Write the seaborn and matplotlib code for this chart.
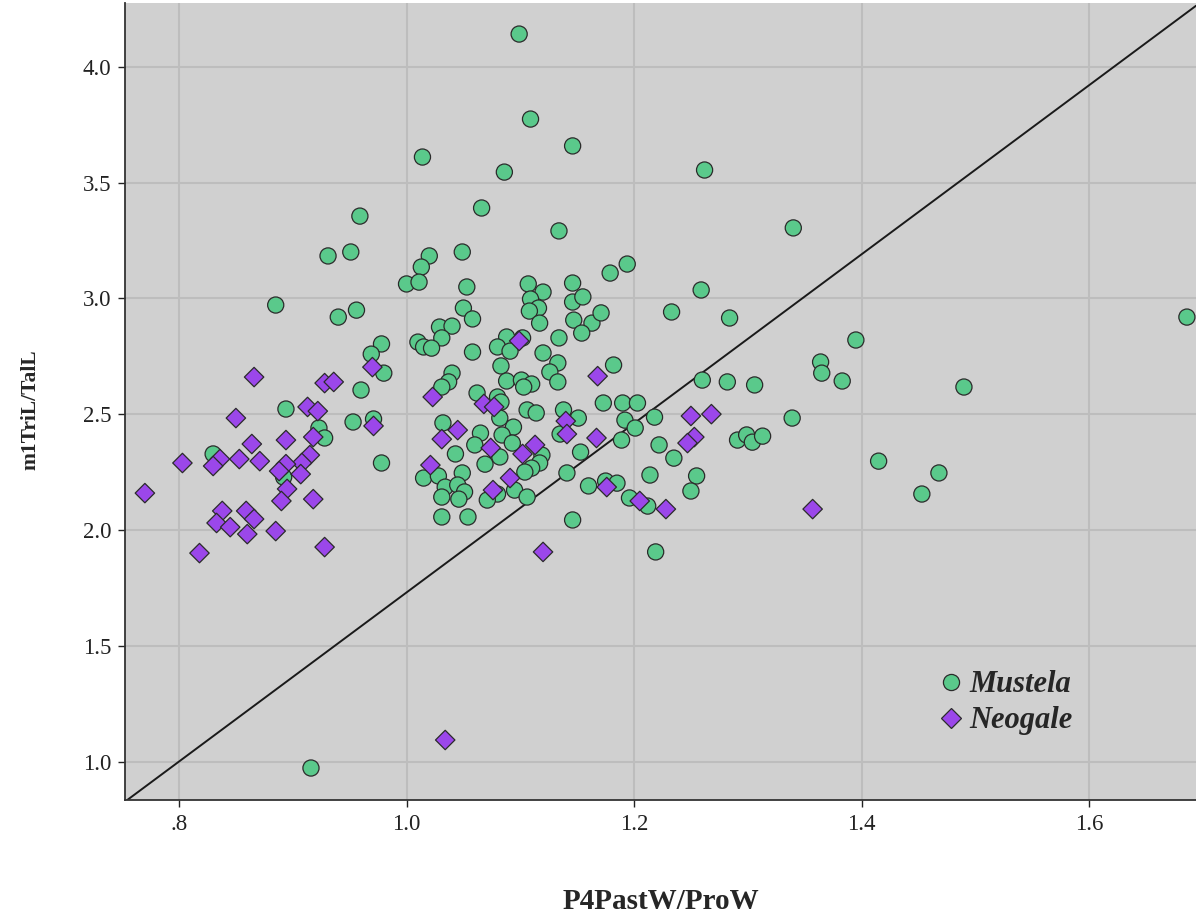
import matplotlib
matplotlib.use("Agg")
import matplotlib.pyplot as plt
from matplotlib.font_manager import FontProperties
import seaborn as sns
import pandas as pd

# P4 posterior/anterior width ratio vs m1 trigonid/talonid length ratio
mustela_x = [
    0.959, 0.951, 0.931, 0.885, 0.956, 0.940, 0.978, 0.969, 0.980, 0.960,
    0.894, 0.953, 0.971, 0.923, 0.928, 0.830, 0.978, 0.892, 0.916,
    1.099, 1.109, 1.146, 1.014, 1.086, 1.066, 1.134, 1.020, 1.049, 1.013,
    1.194, 1.179, 1.000, 1.011, 1.053, 1.107, 1.120, 1.146, 1.109, 1.116,
    1.108, 1.117, 1.050, 1.058, 1.029, 1.040, 1.031, 1.010, 1.015, 1.022,
    1.058, 1.088, 1.080, 1.091, 1.102, 1.134, 1.120, 1.133, 1.126, 1.133,
    1.083, 1.088, 1.101, 1.110, 1.103, 1.040, 1.037, 1.031, 1.062, 1.080,
    1.106, 1.114, 1.138, 1.146, 1.155, 1.147, 1.163, 1.171, 1.154, 1.182,
    1.173, 1.190, 1.203, 1.151, 1.192, 1.201, 1.189, 1.135, 1.153, 1.141,
    1.160, 1.175, 1.185, 1.196, 1.146, 1.032, 1.065, 1.083, 1.082, 1.094,
    1.084, 1.093, 1.060, 1.043, 1.119, 1.117, 1.110, 1.104, 1.069, 1.082,
    1.015, 1.028, 1.049, 1.034, 1.045, 1.051, 1.031, 1.046, 1.095, 1.106,
    1.080, 1.071, 1.031, 1.054, 1.219,
    1.262, 1.340, 1.259, 1.233, 1.284, 1.395, 1.364, 1.365, 1.383, 1.260,
    1.282, 1.306, 1.218, 1.339, 1.291, 1.299, 1.304, 1.313, 1.222, 1.235,
    1.415, 1.214, 1.255, 1.250, 1.212, 1.468, 1.453, 1.490, 1.686,
]
mustela_y = [
    3.355, 3.200, 3.183, 2.971, 2.949, 2.919, 2.803, 2.759, 2.677, 2.604,
    2.522, 2.466, 2.479, 2.440, 2.397, 2.328, 2.289, 2.228, 0.972,
    4.141, 3.774, 3.658, 3.610, 3.545, 3.390, 3.291, 3.183, 3.200, 3.135,
    3.148, 3.109, 3.062, 3.070, 3.049, 3.062, 3.027, 3.066, 2.997, 2.958,
    2.945, 2.893, 2.958, 2.911, 2.876, 2.880, 2.829, 2.811, 2.790, 2.785,
    2.768, 2.833, 2.790, 2.772, 2.829, 2.829, 2.764, 2.721, 2.682, 2.639,
    2.708, 2.643, 2.647, 2.630, 2.617, 2.677, 2.639, 2.617, 2.591, 2.574,
    2.518, 2.505, 2.518, 2.984, 3.006, 2.906, 2.893, 2.937, 2.850, 2.712,
    2.548, 2.548, 2.548, 2.483, 2.474, 2.440, 2.388, 2.414, 2.336, 2.246,
    2.190, 2.211, 2.202, 2.138, 2.043, 2.462, 2.418, 2.552, 2.483, 2.444,
    2.410, 2.375, 2.367, 2.328, 2.323, 2.289, 2.267, 2.250, 2.284, 2.315,
    2.224, 2.233, 2.246, 2.185, 2.194, 2.164, 2.142, 2.133, 2.172, 2.142,
    2.155, 2.129, 2.056, 2.056, 1.905,
    3.554, 3.304, 3.036, 2.941, 2.915, 2.820, 2.725, 2.677, 2.643, 2.647,
    2.639, 2.626, 2.487, 2.483, 2.388, 2.410, 2.379, 2.405, 2.367, 2.310,
    2.297, 2.237, 2.233, 2.168, 2.103, 2.246, 2.155, 2.617, 2.919,
]

neogale_x = [
    0.970, 0.866, 0.928, 0.936, 0.913, 0.922, 0.850, 0.971, 0.918, 0.894,
    0.864, 0.836, 0.830, 0.803, 0.853, 0.871, 0.915, 0.908, 0.894, 0.888,
    0.907, 0.770, 0.895, 0.890, 0.918, 0.838, 0.859, 0.833, 0.866, 0.845,
    0.860, 0.885, 0.818, 0.928,
    1.099, 1.023, 1.068, 1.077, 1.168, 1.045, 1.031, 1.074, 1.113, 1.102,
    1.021, 1.091, 1.076, 1.140, 1.141, 1.167, 1.176, 1.205, 1.120, 1.034,
    1.250, 1.268, 1.253, 1.247, 1.228, 1.357,
]
neogale_y = [
    2.703, 2.660, 2.634, 2.639, 2.531, 2.513, 2.483, 2.449, 2.401, 2.388,
    2.371, 2.306, 2.276, 2.289, 2.306, 2.297, 2.323, 2.289, 2.284, 2.254,
    2.241, 2.159, 2.177, 2.125, 2.133, 2.082, 2.082, 2.030, 2.047, 2.012,
    1.982, 1.995, 1.900, 1.926,
    2.816, 2.574, 2.544, 2.531, 2.664, 2.431, 2.392, 2.354, 2.367, 2.328,
    2.280, 2.224, 2.172, 2.470, 2.414, 2.397, 2.185, 2.125, 1.905, 1.093,
    2.492, 2.500, 2.401, 2.375, 2.090, 2.090,
]

genera = ["Mustela", "Neogale"]
genus_colors = {"Mustela": "#5ac98b", "Neogale": "#9b47ea"}
genus_markers = {"Mustela": "o", "Neogale": "D"}
genus_sizes = {"Mustela": 135, "Neogale": 98}

# reference line y = slope * x + intercept
ref_slope = 3.65
ref_intercept = -1.92

x_ticks = [0.8, 1.0, 1.2, 1.4, 1.6]
x_tick_labels = [".8", "1.0", "1.2", "1.4", "1.6"]
y_ticks = [1.0, 1.5, 2.0, 2.5, 3.0, 3.5, 4.0]
y_tick_labels = ["1.0", "1.5", "2.0", "2.5", "3.0", "3.5", "4.0"]

df = pd.concat([
    pd.DataFrame({"P4PastW/ProW": mustela_x, "m1TriL/TalL": mustela_y, "genus": "Mustela"}),
    pd.DataFrame({"P4PastW/ProW": neogale_x, "m1TriL/TalL": neogale_y, "genus": "Neogale"}),
], ignore_index=True)

sns.set_theme(style="white")
serif = ["Liberation Serif", "DejaVu Serif"]
plt.rcParams["font.family"] = serif

fig = plt.figure(figsize=(11.96, 9.15), dpi=100)
ax = fig.add_axes([0.1045, 0.1257, 0.8955, 0.871])
ax.set_facecolor("#d0d0d0")

ax.set_xlim(0.7525, 1.694)
ax.set_ylim(0.834, 4.275)
ax.set_xticks(x_ticks)
ax.set_xticklabels(x_tick_labels)
ax.set_yticks(y_ticks)
ax.set_yticklabels(y_tick_labels)
ax.grid(True, color="#bdbdbd", linewidth=1.5)
ax.set_axisbelow(True)

ax.axline((0.0, ref_intercept), slope=ref_slope, color="#1a1a1a", linewidth=1.4, zorder=1)

sns.scatterplot(
    data=df, x="P4PastW/ProW", y="m1TriL/TalL",
    hue="genus", style="genus", size="genus",
    hue_order=genera, style_order=genera, size_order=genera,
    palette=genus_colors, markers=genus_markers, sizes=genus_sizes,
    edgecolor="#2b2b2b", linewidth=0.9, ax=ax, zorder=3,
)

for side in ["top", "right"]:
    ax.spines[side].set_visible(False)
for side in ["left", "bottom"]:
    ax.spines[side].set_color("#333333")
    ax.spines[side].set_linewidth(1.3)

ax.tick_params(axis="both", which="major", labelsize=16.5, colors="#222222",
               length=5, width=1, direction="out", left=True, bottom=True, pad=5)
for lab in ax.get_xticklabels() + ax.get_yticklabels():
    lab.set_color("#222222")

ax.set_xlabel("P4PastW/ProW", fontproperties=FontProperties(family=serif, weight="bold", size=21),
              labelpad=38)
ax.set_ylabel("m1TriL/TalL", fontproperties=FontProperties(family=serif, weight="bold", size=15.5),
              labelpad=30)
ax.yaxis.label.set_y(0.49)

handles, labels = ax.get_legend_handles_labels()
legend_font = FontProperties(family=serif, weight="bold", style="italic", size=22)
leg = ax.legend(handles, labels, loc="upper left", bbox_to_anchor=(0.731, 0.197),
                frameon=False, prop=legend_font, handlelength=1.0, handletextpad=0.1,
                borderpad=0.4, labelspacing=0.22)

fig.savefig("out.png", dpi=100, facecolor="white")
